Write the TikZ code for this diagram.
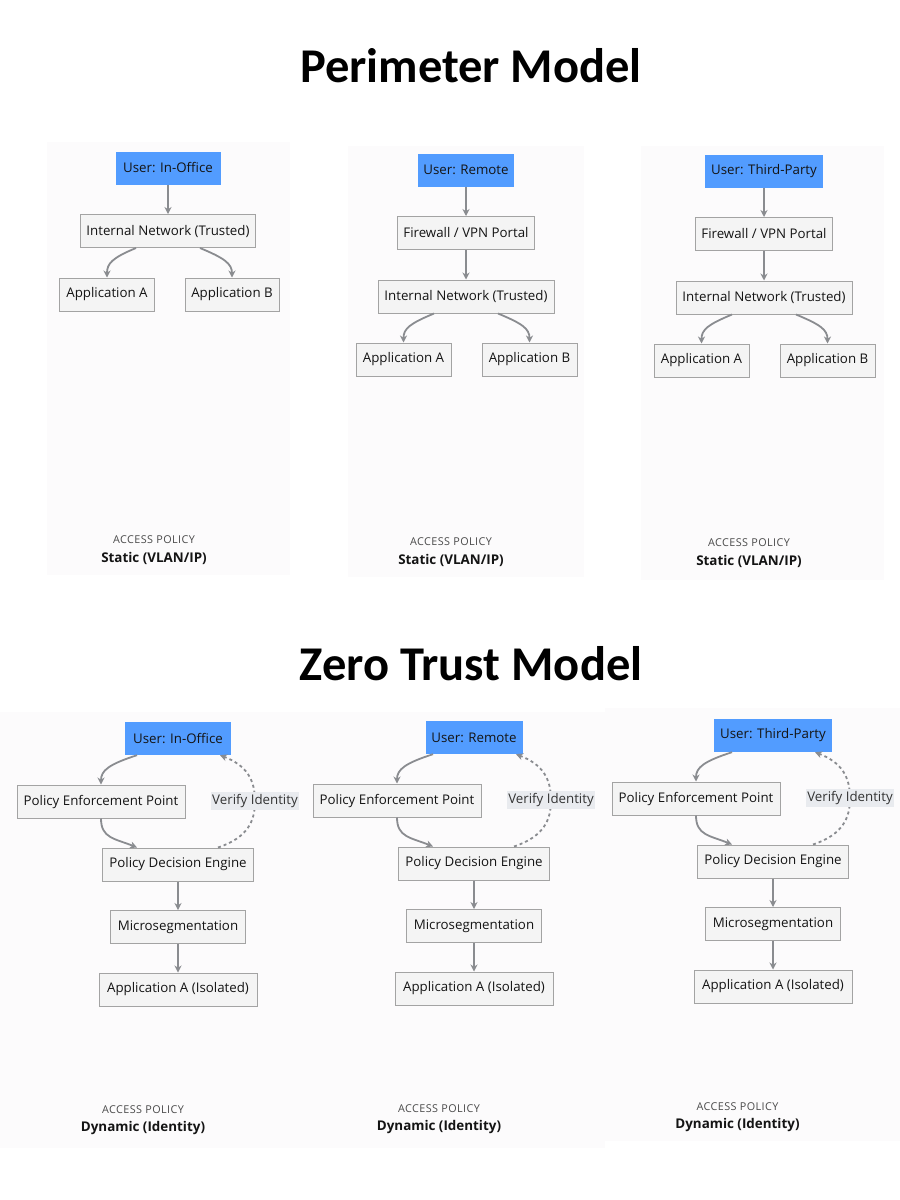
\documentclass[tikz,border=0pt]{standalone}
\usepackage{fontspec}
\setmainfont{Open Sans}
\newfontfamily\titlefont{Carlito}
\newfontfamily\polfont{Open Sans}[LetterSpace=4]
\usetikzlibrary{arrows.meta}
\definecolor{panelbg}{HTML}{FCFBFC}
\definecolor{boxfill}{HTML}{F4F4F4}
\definecolor{boxline}{HTML}{A3A3A3}
\definecolor{userblue}{HTML}{529CFF}
\definecolor{arrowgray}{HTML}{8A8C90}
\definecolor{labelbg}{HTML}{E9EBEF}
\definecolor{policygray}{HTML}{4A4A4A}
\tikzset{
  box/.style={draw=boxline, line width=1pt, fill=boxfill, minimum height=33pt, inner sep=0pt,
    font=\fontsize{13.3}{15}\selectfont, text=black!92},
  userbox/.style={fill=userblue, minimum height=33pt, inner sep=0pt,
    font=\fontsize{13.3}{15}\selectfont, text=black!92},
  arr/.style={draw=arrowgray, line width=1.8pt, -{Stealth[length=7pt,width=7pt]}},
  verify/.style={arr, dash pattern=on 3pt off 3pt},
  vlabel/.style={fill=labelbg, inner xsep=1pt, inner ysep=2pt, font=\fontsize{13.3}{15}\selectfont, text=black!80},
  pol/.style={font=\polfont\fontsize{10.8}{12}\selectfont, text=policygray},
  polval/.style={font=\bfseries\fontsize{13.4}{15}\selectfont, text=black!92},
  bigtitle/.style={font=\titlefont\bfseries\fontsize{48.5}{52}\selectfont}
}
\begin{document}
\begin{tikzpicture}[x=1pt,y=-1pt]
\useasboundingbox (0,0) rectangle (900,1200);
\fill[white] (0,0) rectangle (900,1200);
% panels
\fill[panelbg] (47,142) rectangle (290,575);
\fill[panelbg] (348,146) rectangle (584,577);
\fill[panelbg] (641,146) rectangle (884,580);
\fill[panelbg] (0,712) rectangle (605,1148);
\fill[panelbg] (605,708) rectangle (900,1141);
% titles
\node[bigtitle] (t1) at (471,66) {Perimeter Model};
\node[bigtitle] (t2) at (471,664) {Zero Trust Model};

% ---- Perimeter panel 1
\node[userbox, minimum width=105pt] (p1u) at (168,168) {User: In-Office};
\node[box, minimum width=175pt] (p1n) at (168,231) {Internal Network (Trusted)};
\node[box, minimum width=95pt] (p1a) at (107,294.5) {Application A};
\node[box, minimum width=94pt] (p1b) at (232,294.5) {Application B};
\draw[arr] (p1u) -- (p1n);
\draw[arr] ([xshift=-32pt]p1n.south) .. controls +(-24,10) and +(0,-14) .. (p1a.north);
\draw[arr] ([xshift=32pt]p1n.south) .. controls +(24,10) and +(0,-14) .. (p1b.north);
\node[pol] (p1k) at (154,540) {ACCESS POLICY};
\node[polval] (p1v) at (154,558) {Static (VLAN/IP)};

% ---- Perimeter panels 2 and 3
\foreach \dx/\dy/\pp/\ut/\uw/\px/\py in {0/0/p2/{User: Remote}/96pt/451/542, 298/1/p3/{User: Third-Party}/118pt/451/542}{
  \begin{scope}[shift={(\dx,\dy)}]
    \node[userbox, minimum width=\uw] (\pp u) at (466,170) {\ut};
    \node[box, minimum width=137pt] (\pp f) at (466,233) {Firewall / VPN Portal};
    \node[box, minimum width=176pt] (\pp n) at (466,296.5) {Internal Network (Trusted)};
    \node[box, minimum width=95pt] (\pp a) at (403.5,359.5) {Application A};
    \node[box, minimum width=95pt] (\pp b) at (529.5,359.5) {Application B};
    \draw[arr] (\pp u) -- (\pp f);
    \draw[arr] (\pp f) -- (\pp n);
    \draw[arr] ([xshift=-32pt]\pp n.south) .. controls +(-24,10) and +(0,-14) .. (\pp a.north);
    \draw[arr] ([xshift=32pt]\pp n.south) .. controls +(24,10) and +(0,-14) .. (\pp b.north);
    \node[pol] (\pp k) at (\px,\py) {ACCESS POLICY};
    \node[polval] (\pp v) at (\px,\py+18) {Static (VLAN/IP)};
  \end{scope}
}

% ---- Zero trust panels
\foreach \dx/\dy/\pp/\ut/\uw/\px in {0/0/z1/{User: In-Office}/106pt/143, 296/-1/z2/{User: Remote}/97pt/143, 595/-3/z3/{User: Third-Party}/118pt/142.5}{
  \begin{scope}[shift={(\dx,\dy)}]
    \node[userbox, minimum width=\uw] (\pp u) at (178,738.5) {\ut};
    \node[box, minimum width=168pt] (\pp e) at (101,801.5) {Policy Enforcement Point};
    \node[box, minimum width=151pt] (\pp d) at (178,864.5) {Policy Decision Engine};
    \node[box, minimum width=135pt] (\pp m) at (178,927) {Microsegmentation};
    \node[box, minimum width=158pt] (\pp a) at (178,989.5) {Application A (Isolated)};
    \draw[arr] ([xshift=-41pt]\pp u.south) .. controls +(-28,9) and +(0,-14) .. (\pp e.north);
    \draw[arr] (\pp e.south) .. controls +(0,20) and +(-22,-9) .. ([xshift=-41pt]\pp d.north);
    \draw[verify] ([xshift=40pt]\pp d.north) .. controls +(30,-10) and +(0,20) .. (255,801)
      node[vlabel] (\pp l) {Verify Identity}
      .. controls +(0,-22) and +(26,10) .. ([xshift=42pt]\pp u.south);
    \draw[arr] (\pp d) -- (\pp m);
    \draw[arr] (\pp m) -- (\pp a);
    \node[pol] (\pp k) at (\px,1110) {ACCESS POLICY};
    \node[polval] (\pp v) at (\px,1128) {Dynamic (Identity)};
  \end{scope}
}
\end{tikzpicture}
\end{document}
